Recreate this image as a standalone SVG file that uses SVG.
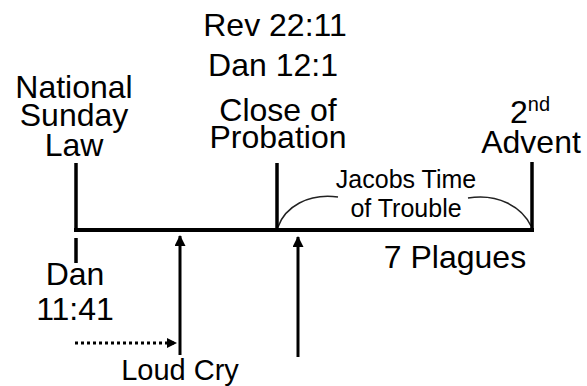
<svg xmlns="http://www.w3.org/2000/svg" width="587" height="386" viewBox="0 0 587 386">
<defs>
<style>
text{font-family:"Liberation Sans",Arial,sans-serif;fill:#000;text-anchor:middle}
.big{font-size:32px}
.mid{font-size:29px}
.sm{font-size:25px}
.bar{stroke:#000;stroke-width:4;fill:none}
.tick{stroke:#000;stroke-width:3.5;fill:none}
.arc{stroke:#222;stroke-width:1.5;fill:none}
.arr{stroke:#000;stroke-width:3;fill:none}
</style>
<marker id="ah" viewBox="0 0 10 10" refX="9" refY="5" markerWidth="10" markerHeight="10" markerUnits="userSpaceOnUse" orient="auto">
<path d="M0,0 L10,5 L0,10 Z" fill="#000"/>
</marker>
<marker id="ahb" viewBox="0 0 10 10" refX="9" refY="5" markerWidth="12" markerHeight="11" markerUnits="userSpaceOnUse" orient="auto">
<path d="M0,0 L10,5 L0,10 Z" fill="#000"/>
</marker>
</defs>
<rect width="587" height="386" fill="#fff"/>
<g id="connectors">
<line class="bar" x1="74" y1="230" x2="534" y2="230"/>
<path class="arc" d="M278,227 C285,207 308,193 338,197"/>
<path class="arc" d="M468,198 C498,193 522,207 531,226"/>
<line class="arr" x1="180" y1="355" x2="180" y2="236" marker-end="url(#ahb)"/>
<line class="arr" x1="298" y1="357" x2="298" y2="237" marker-end="url(#ahb)"/>
<line class="arr" x1="75" y1="343" x2="176" y2="343" stroke-dasharray="3,3" marker-end="url(#ah)"/>
</g>
<g id="nsl">
<line class="tick" x1="76" y1="163" x2="76" y2="232"/>
<text class="big" x="74" y="98">National</text>
<text class="big" x="74" y="126">Sunday</text>
<text class="big" x="74" y="156">Law</text>
</g>
<g id="dan1141">
<line class="tick" x1="76" y1="238" x2="76" y2="263"/>
<text class="big" x="75" y="285">Dan</text>
<text class="big" x="75" y="320">11:41</text>
</g>
<g id="cop">
<line class="tick" x1="277" y1="163" x2="277" y2="232"/>
<text class="big" x="275" y="36">Rev 22:11</text>
<text class="big" x="273" y="76">Dan 12:1</text>
<text class="big" x="278" y="121">Close of</text>
<text class="big" x="278" y="148">Probation</text>
</g>
<g id="advent">
<line class="tick" x1="532" y1="162" x2="532" y2="232"/>
<text class="big" x="510" y="123" style="text-anchor:start">2<tspan style="font-size:20px" dy="-12">nd</tspan></text>
<text class="big" x="531" y="153">Advent</text>
</g>
<g id="jacobs">
<text class="sm" x="406" y="188">Jacobs Time</text>
<text class="sm" x="406" y="217">of Trouble</text>
</g>
<g id="plagues">
<text class="big" x="455" y="268">7 Plagues</text>
</g>
<g id="loudcry">
<text class="mid" x="180" y="380">Loud Cry</text>
</g>
</svg>
